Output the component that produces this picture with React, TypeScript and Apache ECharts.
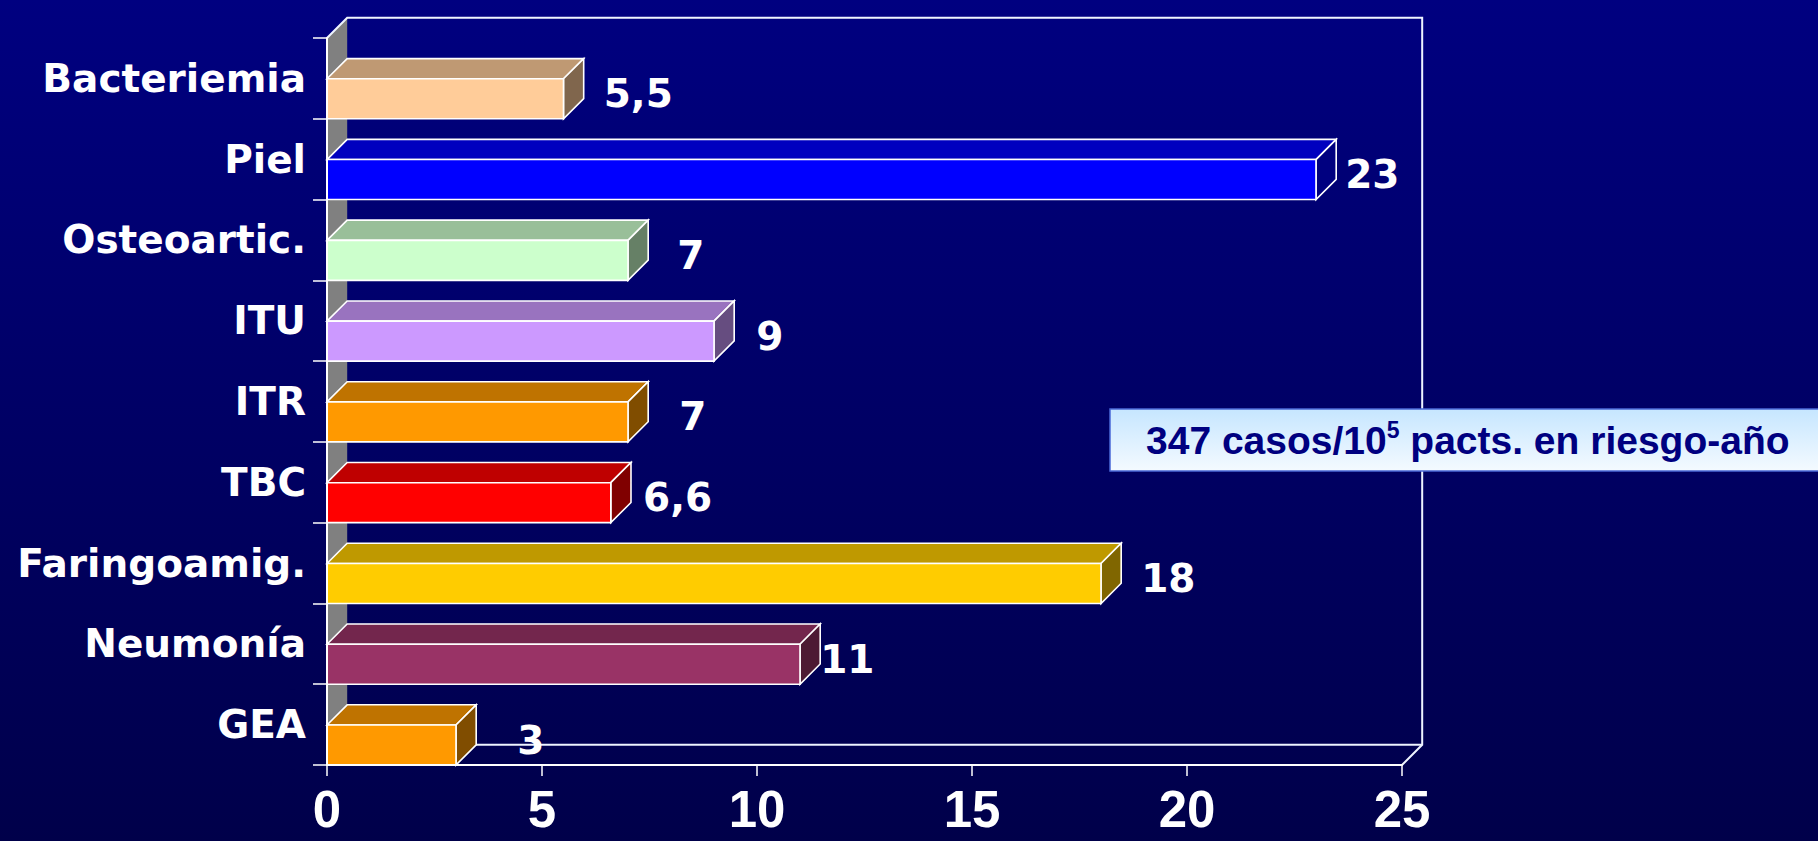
import React, { useEffect, useRef } from "react";
import * as echarts from "echarts";

// ---- data ----
const categories = ["Bacteriemia", "Piel", "Osteoartic.", "ITU", "ITR", "TBC", "Faringoamig.", "Neumonía", "GEA"];
const values = [5.5, 23, 7, 9, 7, 6.6, 18, 11, 3];
const xMin = 0;
const xMax = 25;
const xStep = 5;
const frontColors = ["#FFCC99", "#0000FF", "#CCFFCC", "#CC99FF", "#FF9900", "#FF0000", "#FFCC00", "#993366", "#FF9900"];
// horizontal gap (px) between each bar's end and its value label
const labelGap = [23, 12, 32, 25, 34, 15, 23, 3, 44];
const noteMain = "347 casos/10";
const noteSup = "5";
const noteTail = " pacts. en riesgo-año";

// ---- layout ----
const W = 1818;
const H = 841;
const GRID = { left: 327, top: 38, right: 416, bottom: 76 };

function shade(hex: string, k: number): string {
  const n = parseInt(hex.slice(1), 16);
  const r = Math.round(((n >> 16) & 255) * k);
  const g = Math.round(((n >> 8) & 255) * k);
  const b = Math.round((n & 255) * k);
  return `rgb(${r},${g},${b})`;
}

export default function App() {
  const ref = useRef<HTMLDivElement>(null);

  useEffect(() => {
    if (!ref.current) return;
    const chart = echarts.init(ref.current, null, { renderer: "svg" });

    const L = GRID.left;
    const T = GRID.top;
    const R = W - GRID.right;
    const B = H - GRID.bottom;
    const bandPx = (B - T) / categories.length;
    const D = bandPx * 0.25;
    const lineCol = "#EEF4FF";

    const renderItem = (params: any, api: any) => {
      const i = params.dataIndex;
      const v = api.value(0) as number;
      const c = api.value(1) as number;
      const p0 = api.coord([0, c]);
      const p1 = api.coord([v, c]);
      const band = Math.abs(api.size([0, 1])[1]);
      const bottom = p0[1] + band / 2;
      const h = band * 0.495;
      const top = bottom - h;
      const d = band * 0.25;
      const x0 = p0[0];
      const x1 = p1[0];
      const fc = frontColors[i];
      const edge = { stroke: "#ffffff", lineWidth: 1.6, lineJoin: "miter" };
      return {
        type: "group",
        children: [
          {
            type: "polygon",
            shape: { points: [[x0, top], [x0 + d, top - d], [x1 + d, top - d], [x1, top]] },
            style: { fill: shade(fc, 0.75), ...edge },
          },
          {
            type: "polygon",
            shape: { points: [[x1, top], [x1 + d, top - d], [x1 + d, bottom - d], [x1, bottom]] },
            style: { fill: shade(fc, 0.5), ...edge },
          },
          {
            type: "rect",
            shape: { x: x0, y: top, width: x1 - x0, height: h },
            style: { fill: fc, ...edge },
          },
          {
            type: "text",
            x: x1 + d + labelGap[i] - 3,
            y: (top + bottom) / 2 - 5,
            style: {
              text: String(v).replace(".", ","),
              fill: "#ffffff",
              fontFamily: "DejaVu Sans",
              fontWeight: "bold",
              fontSize: 39,
              align: "left",
              verticalAlign: "middle",
            },
          },
        ],
      };
    };

    chart.setOption({
      animation: false,
      backgroundColor: "transparent",
      grid: { left: GRID.left, top: GRID.top, right: GRID.right, bottom: GRID.bottom, containLabel: false },
      xAxis: {
        type: "value",
        min: xMin,
        max: xMax,
        interval: xStep,
        z: 3,
        axisLine: { show: true, lineStyle: { color: "#ffffff", width: 2 } },
        axisTick: { show: true, length: 11, lineStyle: { color: "#ffffff", width: 1.5 } },
        splitLine: { show: false },
        axisLabel: {
          color: "#ffffff",
          fontFamily: "Liberation Sans",
          fontWeight: "bold",
          fontSize: 51,
          margin: 19,
        },
      },
      yAxis: {
        type: "category",
        data: categories,
        inverse: true,
        z: 3,
        axisLine: { show: true, lineStyle: { color: "#ffffff", width: 2 } },
        axisTick: { show: true, length: 14, lineStyle: { color: "#ffffff", width: 1.5 } },
        splitLine: { show: false },
        axisLabel: {
          color: "#ffffff",
          fontFamily: "DejaVu Sans",
          fontWeight: "bold",
          fontSize: 39,
          margin: 21,
        },
      },
      graphic: [
        {
          type: "polygon",
          z: 0,
          silent: true,
          shape: { points: [[L, T], [L + D, T - D], [L + D, B - D], [L, B]] },
          style: { fill: "#808080" },
        },
        {
          type: "polyline",
          z: 1,
          silent: true,
          shape: { points: [[L, T], [L + D, T - D], [R + D, T - D], [R + D, B - D], [R, B]] },
          style: { fill: null, stroke: lineCol, lineWidth: 2 },
        },
        {
          type: "line",
          z: 1,
          silent: true,
          shape: { x1: L + D, y1: B - D, x2: R + D, y2: B - D },
          style: { stroke: lineCol, lineWidth: 2 },
        },
        {
          type: "rect",
          z: 100,
          silent: true,
          shape: { x: 1110, y: 409, width: 760, height: 62 },
          style: {
            fill: {
              type: "linear",
              x: 0,
              y: 0,
              x2: 0,
              y2: 1,
              colorStops: [
                { offset: 0, color: "#C6E6FF" },
                { offset: 1, color: "#F4FAFF" },
              ],
            },
            stroke: "#4A68D8",
            lineWidth: 1.5,
          },
        },
        {
          type: "text",
          z: 101,
          silent: true,
          x: 1146,
          y: 440,
          style: {
            text: `{a|${noteMain}}{s|${noteSup}}{a|${noteTail}}`,
            align: "left",
            verticalAlign: "middle",
            rich: {
              a: {
                fontFamily: "Liberation Sans",
                fontWeight: "bold",
                fontSize: 39,
                lineHeight: 44,
                fill: "#000080",
                color: "#000080",
              },
              s: {
                fontFamily: "Liberation Sans",
                fontWeight: "bold",
                fontSize: 23,
                lineHeight: 23,
                verticalAlign: "top",
                fill: "#000080",
                color: "#000080",
              },
            },
          },
        },
      ],
      series: [
        {
          type: "custom",
          z: 2,
          renderItem,
          encode: { x: 0, y: 1 },
          data: values.map((v, i) => [v, i]),
        },
      ],
    });

    return () => {
      chart.dispose();
    };
  }, []);

  return (
    <div
      ref={ref}
      style={{
        position: "absolute",
        left: 0,
        top: 0,
        width: `${W}px`,
        height: `${H}px`,
        background: "linear-gradient(180deg, #000080 0%, #00004A 100%)",
      }}
    />
  );
}
